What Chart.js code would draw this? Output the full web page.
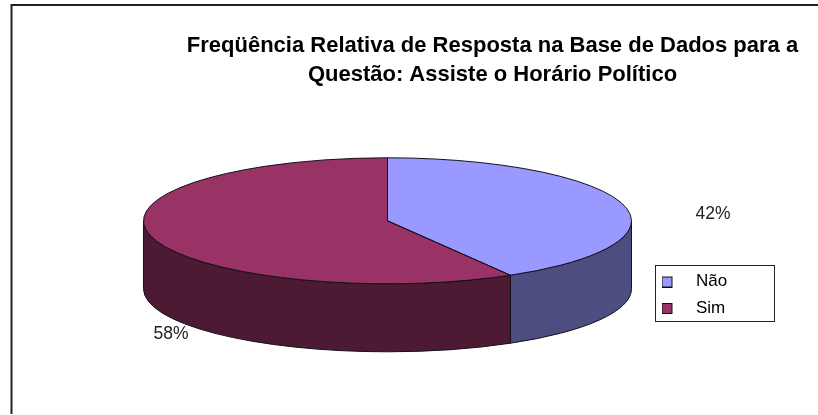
<!DOCTYPE html>
<html><head><meta charset="utf-8">
<style>html,body{margin:0;padding:0;background:#fff}#w{width:818px;height:415px;overflow:hidden}canvas{display:block}</style>
<script src="https://cdn.jsdelivr.net/npm/chart.js@4"></script>
</head><body><div id="w"><canvas id="c" width="818" height="415"></canvas></div>
<script>
const categories = ['Não', 'Sim'];
const values = [41.6, 58.4];
const topColors = ['#9999FF', '#993366'];
const sideColors = ['#4D4D80', '#4D1A33'];
const titleLines = ['Freqüência Relativa de Resposta na Base de Dados para a', 'Questão: Assiste o Horário Político'];

const G = {cx: 387.5, cy: 220.8, rx: 244, ry: 63, depth: 68};
const FONT = '"Liberation Sans", Arial, sans-serif';

function swatch(color) {
  const c = document.createElement('canvas');
  c.width = 26; c.height = 12;
  const x = c.getContext('2d');
  x.fillStyle = color; x.fillRect(0.5, 1.5, 10, 10);
  x.strokeStyle = '#111'; x.lineWidth = 1; x.strokeRect(0.5, 1.5, 10, 10);
  return c;
}

const pie3d = {
  id: 'pie3d',
  afterLayout(chart) {
    const t = chart.titleBlock;
    const th = t.height;
    t.left = 186; t.right = 799; t.width = 613; t.top = 31.5; t.bottom = 31.5 + th;
    const l = chart.legend;
    l.left = 652; l.right = 790; l.top = 263.5; l.bottom = 345; l.width = 138; l.height = 81.5;
  },
  beforeDraw(chart) {
    const c = chart.ctx;
    c.save();
    c.fillStyle = '#fff'; c.fillRect(0, 0, 818, 415);
    c.strokeStyle = '#222'; c.lineWidth = 2;
    c.beginPath();
    c.moveTo(11.5, 414);
    c.lineTo(11.5, 5);
    c.lineTo(818, 5);
    c.stroke();
    c.fillStyle = '#fff'; c.strokeStyle = '#222'; c.lineWidth = 1;
    c.fillRect(655.5, 265.5, 119, 56);
    c.strokeRect(655.5, 265.5, 119, 56);
    c.restore();
  },
  beforeDatasetDraw(chart) {
    const c = chart.ctx;
    const arcs = chart.getDatasetMeta(0).data;
    arcs.forEach((a, i) => {
      const s = Math.max(a.startAngle, 0), e = Math.min(a.endAngle, Math.PI);
      if (e <= s) return;
      c.save();
      c.beginPath();
      c.ellipse(G.cx, G.cy, G.rx, G.ry, 0, s, e, false);
      c.lineTo(G.cx + G.rx * Math.cos(e), G.cy + G.ry * Math.sin(e) + G.depth);
      c.ellipse(G.cx, G.cy + G.depth, G.rx, G.ry, 0, e, s, true);
      c.closePath();
      c.fillStyle = sideColors[i];
      c.fill();
      c.strokeStyle = '#14101c'; c.lineWidth = 1;
      c.stroke();
      c.restore();
    });
    const a0 = arcs[0];
    c.save();
    c.translate(G.cx, G.cy);
    c.scale(G.rx / a0.outerRadius, G.ry / a0.outerRadius);
    c.translate(-a0.x, -a0.y);
  },
  afterDatasetDraw(chart) {
    const c = chart.ctx;
    c.restore();
    chart.getDatasetMeta(0).data.forEach(a => {
      c.save();
      c.beginPath();
      c.moveTo(G.cx, G.cy);
      c.ellipse(G.cx, G.cy, G.rx, G.ry, 0, a.startAngle, a.endAngle, false);
      c.closePath();
      c.strokeStyle = '#14101c'; c.lineWidth = 1;
      c.stroke();
      c.restore();
    });
  },
  afterDraw(chart) {
    const c = chart.ctx;
    c.save();
    c.font = '17.5px ' + FONT;
    c.fillStyle = '#222';
    c.textAlign = 'center'; c.textBaseline = 'middle';
    c.fillText(Math.round(values[0]) + '%', 713, 214);
    c.fillText(Math.round(values[1]) + '%', 171, 334);
    c.restore();
  }
};

new Chart(document.getElementById('c'), {
  type: 'pie',
  data: {labels: categories, datasets: [{data: values, backgroundColor: topColors, borderWidth: 0}]},
  options: {
    responsive: false, animation: false,
    layout: {padding: 0},
    plugins: {
      tooltip: {enabled: false},
      title: {
        display: true, text: titleLines, color: '#000',
        font: {family: FONT, size: 22, weight: 'bold', lineHeight: 1.32},
        padding: 0
      },
      legend: {
        display: true, position: 'right', align: 'start',
        labels: {
          color: '#222', font: {family: FONT, size: 17},
          usePointStyle: true, pointStyleWidth: 26, padding: 9.5,
          generateLabels(chart) {
            return categories.map((t, i) => ({text: t, pointStyle: swatch(topColors[i]), fillStyle: topColors[i], strokeStyle: '#111', lineWidth: 0, hidden: false, index: i}));
          }
        }
      }
    }
  },
  plugins: [pie3d]
});
</script></body></html>
